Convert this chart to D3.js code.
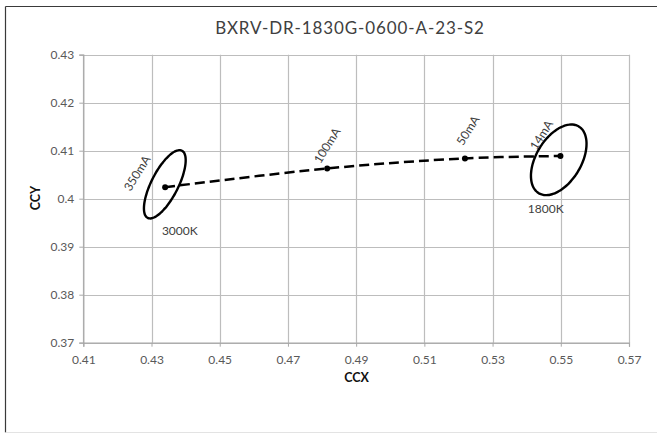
<!DOCTYPE html>
<html>
<head>
<meta charset="utf-8">
<script src="https://cdn.jsdelivr.net/npm/d3@7"></script>
<style>
  html, body { margin: 0; padding: 0; background: #fff; }
  svg { display: block; }
  text { font-family: Lato, "Open Sans", sans-serif; }
</style>
</head>
<body>
<svg id="chart" width="657" height="434"></svg>
<script>
// ---- data ----
const chartTitle = "BXRV-DR-1830G-0600-A-23-S2";
const xTitle = "CCX";
const yTitle = "CCY";
const xTicks = [0.41, 0.43, 0.45, 0.47, 0.49, 0.51, 0.53, 0.55, 0.57];
const xTickLabels = ["0.41", "0.43", "0.45", "0.47", "0.49", "0.51", "0.53", "0.55", "0.57"];
const yTicks = [0.37, 0.38, 0.39, 0.40, 0.41, 0.42, 0.43];
const yTickLabels = ["0.37", "0.38", "0.39", "0.4", "0.41", "0.42", "0.43"];

const currents = ["350mA", "100mA", "50mA", "14mA"];
const ccx = [0.4340, 0.4815, 0.5219, 0.5499];
const ccy = [0.4024, 0.4063, 0.4084, 0.4089];

// ellipses: centre and two semi-axis vectors in data units
const ellipseNames = ["3000K", "1800K"];
const ellipseCx = [0.4339, 0.5494];
const ellipseCy = [0.4030, 0.4081];
const ellipseMajor = [[0.00502, 0.00700], [0.00587, 0.00695]];
const ellipseMinor = [[0.00350, -0.00127], [0.00565, -0.00241]];

// ---- layout ----
const svg = d3.select("#chart");
const plot = { left: 83.3, right: 629, top: 54.7, bottom: 342.7 };
const x = d3.scaleLinear().domain([0.41, 0.57]).range([plot.left, plot.right]);
const y = d3.scaleLinear().domain([0.37, 0.43]).range([plot.bottom, plot.top]);

// outer chart border
svg.append("line").attr("x1", 5.5).attr("x2", 5.5).attr("y1", 6.5).attr("y2", 432.5)
  .attr("stroke", "#3a3a3a").attr("stroke-width", 1.2);
svg.append("line").attr("x1", 5.5).attr("x2", 660).attr("y1", 6.5).attr("y2", 6.5)
  .attr("stroke", "#3a3a3a").attr("stroke-width", 1.2);
svg.append("line").attr("x1", 5.5).attr("x2", 660).attr("y1", 432.5).attr("y2", 432.5)
  .attr("stroke", "#e3e3e3").attr("stroke-width", 1);

// title
svg.append("text").attr("x", 350).attr("y", 34).attr("text-anchor", "middle")
  .attr("font-size", 17).attr("fill", "#404040").attr("letter-spacing", 0.9).text(chartTitle);

const gridColor = "#bdbdbd";
// gridlines
svg.append("g").selectAll("line").data(xTicks).join("line")
  .attr("x1", d => Math.round(x(d)) + 0.5).attr("x2", d => Math.round(x(d)) + 0.5)
  .attr("y1", plot.top).attr("y2", plot.bottom)
  .attr("stroke", gridColor).attr("stroke-width", 1.2);
svg.append("g").selectAll("line").data(yTicks).join("line")
  .attr("y1", d => Math.round(y(d)) + 0.5).attr("y2", d => Math.round(y(d)) + 0.5)
  .attr("x1", plot.left).attr("x2", plot.right)
  .attr("stroke", gridColor).attr("stroke-width", 1.2);

// axes
const xAxis = d3.axisBottom(x).tickValues(xTicks).tickSize(4)
  .tickFormat((d, i) => xTickLabels[i]);
const yAxis = d3.axisLeft(y).tickValues(yTicks).tickSize(4)
  .tickFormat((d, i) => yTickLabels[i]);
const gx = svg.append("g").attr("transform", `translate(0,${plot.bottom})`).call(xAxis);
const gy = svg.append("g").attr("transform", `translate(${plot.left},0)`).call(yAxis);
[gx, gy].forEach(g => {
  g.select(".domain").attr("stroke", "#a8a8a8").attr("stroke-width", 1.2);
  g.selectAll(".tick line").attr("stroke", "#a8a8a8");
  g.selectAll(".tick text").attr("font-family", "Lato, sans-serif")
    .attr("font-size", 12).attr("fill", "#595959");
});
gx.selectAll(".tick text").attr("dy", "1.2em");
gy.selectAll(".tick text").attr("x", -9);

// axis titles
svg.append("text").attr("x", 356.5).attr("y", 382).attr("text-anchor", "middle")
  .attr("font-size", 12.5).attr("font-weight", "bold").attr("fill", "#111").text(xTitle);
svg.append("text").attr("transform", "translate(39.5,198) rotate(-90)").attr("text-anchor", "middle")
  .attr("font-size", 12.5).attr("font-weight", "bold").attr("fill", "#111").text(yTitle);

// ellipses
const tSteps = d3.range(0, 361, 4).map(a => a * Math.PI / 180);
const ellipseLine = d3.line().curve(d3.curveCatmullRomClosed);
ellipseNames.forEach((name, i) => {
  const pts = tSteps.slice(0, -1).map(t => [
    x(ellipseCx[i] + ellipseMajor[i][0] * Math.cos(t) + ellipseMinor[i][0] * Math.sin(t)),
    y(ellipseCy[i] + ellipseMajor[i][1] * Math.cos(t) + ellipseMinor[i][1] * Math.sin(t))
  ]);
  svg.append("path").attr("d", ellipseLine(pts))
    .attr("fill", "none").attr("stroke", "#000").attr("stroke-width", 2.4);
});

// dashed smoothed series
const pts = ccx.map((v, i) => [x(v), y(ccy[i])]);
svg.append("path").attr("d", d3.line().curve(d3.curveCatmullRom.alpha(0.5))(pts))
  .attr("fill", "none").attr("stroke", "#000").attr("stroke-width", 2.5)
  .attr("stroke-dasharray", "10,5");
svg.append("g").selectAll("circle").data(pts).join("circle")
  .attr("cx", d => d[0]).attr("cy", d => d[1]).attr("r", 3).attr("fill", "#000");

// current labels (rotated)
const labelOffset = [[-28, -14], [0, -23], [3, -28], [-19, -21]];
svg.append("g").selectAll("text").data(currents).join("text")
  .attr("transform", (d, i) => `translate(${pts[i][0] + labelOffset[i][0]},${pts[i][1] + labelOffset[i][1]}) rotate(-58)`)
  .attr("text-anchor", "middle").attr("dy", "0.35em")
  .attr("font-size", 12).attr("fill", "#404040").text(d => d);

// CCT labels
const cctOffset = [[15, 46], [-13, 49]];
svg.append("g").selectAll("text").data(ellipseNames).join("text")
  .attr("x", (d, i) => x(ellipseCx[i]) + cctOffset[i][0])
  .attr("y", (d, i) => y(ellipseCy[i]) + cctOffset[i][1])
  .attr("text-anchor", "middle").attr("dy", "0.35em")
  .attr("font-size", 12).attr("fill", "#404040").text(d => d);
</script>
</body>
</html>
